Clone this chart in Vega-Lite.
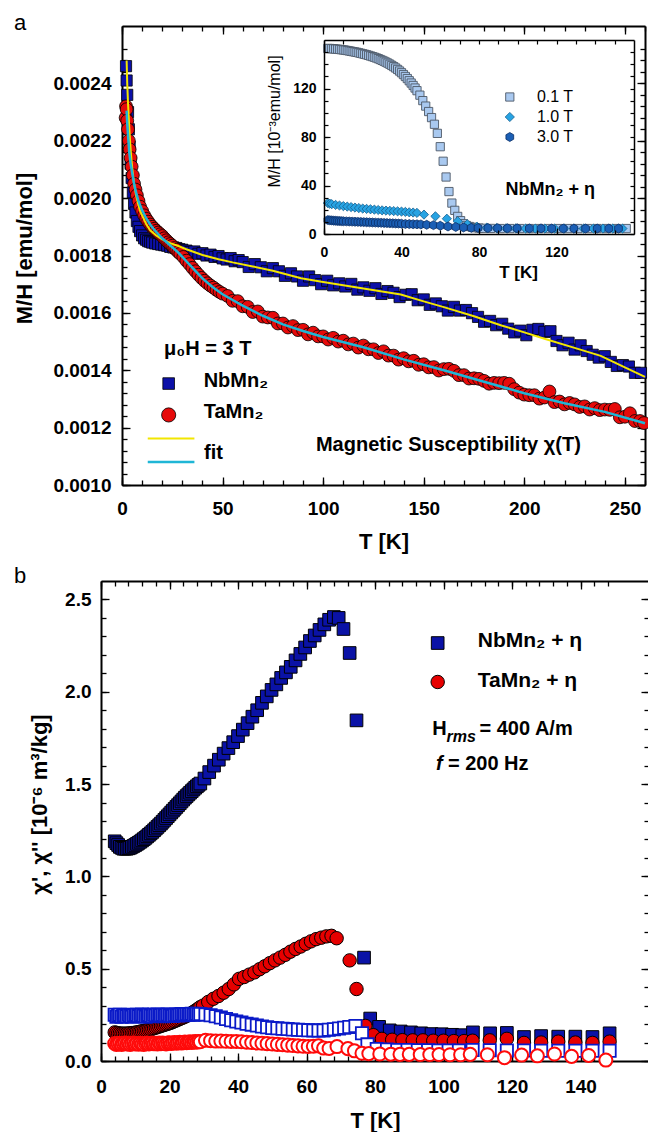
{
"$schema": "https://vega.github.io/schema/vega-lite/v6.json",
"background": "white",
"padding": {"left": 13, "top": 12, "right": 0, "bottom": 2},
"bounds": "flush",
"spacing": 96,
"config": {
 "view": {"stroke": null},
 "font": "Liberation Sans",
 "axis": {"grid": false, "domainColor": "#000000", "domainWidth": 2, "tickColor": "#000000", "tickWidth": 1.3, "tickSize": -8, "labelColor": "#000000", "titleColor": "#000000", "labelFont": "Liberation Sans", "titleFont": "Liberation Sans", "labelFontWeight": "bold", "titleFontWeight": "bold", "labelFontSize": 19, "titleFontSize": 22, "labelFlush": false, "labelOverlap": false}
},
"datasets": {
 "a_nb": [{"T":2,"v":0.00246},{"T":2.3,"v":0.00241},{"T":2.6,"v":0.00236},{"T":3,"v":0.0023},{"T":3.4,"v":0.00224},{"T":3.8,"v":0.00218},{"T":4.3,"v":0.00212},{"T":4.8,"v":0.00207},{"T":5.4,"v":0.00202},{"T":6,"v":0.00198},{"T":6.7,"v":0.00195},{"T":7.4,"v":0.00192},{"T":8.2,"v":0.0019},{"T":9,"v":0.001885},{"T":10,"v":0.00187},{"T":11,"v":0.00186},{"T":12,"v":0.001855},{"T":13,"v":0.00185},{"T":14,"v":0.001848},{"T":15,"v":0.001845},{"T":16.5,"v":0.001842},{"T":18,"v":0.00184},{"T":19.5,"v":0.001838},{"T":21,"v":0.001836},{"T":22.5,"v":0.001834},{"T":24,"v":0.00183},{"T":25.5,"v":0.001828},{"T":27,"v":0.001826},{"T":28.5,"v":0.001822},{"T":30,"v":0.00182},{"T":32,"v":0.001817},{"T":34,"v":0.001812},{"T":36,"v":0.001814},{"T":38,"v":0.001806},{"T":40,"v":0.001808},{"T":42,"v":0.0018},{"T":44,"v":0.001803},{"T":46,"v":0.001795},{"T":48,"v":0.001798},{"T":50,"v":0.00179},{"T":52,"v":0.001786},{"T":54,"v":0.001791},{"T":56,"v":0.00178},{"T":58,"v":0.001784},{"T":60,"v":0.001777},{"T":63,"v":0.00176},{"T":66,"v":0.00177},{"T":69,"v":0.001759},{"T":72,"v":0.001745},{"T":75,"v":0.001756},{"T":78,"v":0.001745},{"T":81,"v":0.001729},{"T":84,"v":0.001738},{"T":87,"v":0.001727},{"T":90,"v":0.001712},{"T":93,"v":0.001727},{"T":96,"v":0.001714},{"T":99,"v":0.0017},{"T":102,"v":0.001712},{"T":105,"v":0.001696},{"T":108,"v":0.001703},{"T":111,"v":0.001692},{"T":114,"v":0.001701},{"T":117,"v":0.001681},{"T":120,"v":0.001689},{"T":123,"v":0.001677},{"T":126,"v":0.001686},{"T":129,"v":0.001666},{"T":132,"v":0.001676},{"T":135,"v":0.00167},{"T":138,"v":0.001655},{"T":141,"v":0.001663},{"T":144,"v":0.001665},{"T":147,"v":0.001644},{"T":150,"v":0.001647},{"T":153,"v":0.001628},{"T":156,"v":0.001633},{"T":159,"v":0.001623},{"T":162,"v":0.001608},{"T":165,"v":0.001621},{"T":168,"v":0.001608},{"T":171,"v":0.00161},{"T":174,"v":0.001599},{"T":177,"v":0.001586},{"T":180,"v":0.001569},{"T":183,"v":0.001572},{"T":186,"v":0.001557},{"T":189,"v":0.001562},{"T":192,"v":0.001545},{"T":195,"v":0.001532},{"T":198,"v":0.001538},{"T":201,"v":0.001522},{"T":204,"v":0.001541},{"T":207,"v":0.001544},{"T":210,"v":0.001534},{"T":213,"v":0.001536},{"T":216,"v":0.001502},{"T":219,"v":0.001487},{"T":222,"v":0.001496},{"T":225,"v":0.001472},{"T":228,"v":0.001487},{"T":231,"v":0.001467},{"T":234,"v":0.001454},{"T":237,"v":0.001444},{"T":240,"v":0.001449},{"T":243,"v":0.001429},{"T":246,"v":0.001415},{"T":249,"v":0.001418},{"T":252,"v":0.001413},{"T":255,"v":0.001391},{"T":258,"v":0.001391}],
 "a_ta": [{"T":1.8,"v":0.00228},{"T":2,"v":0.00232},{"T":2.3,"v":0.00231},{"T":2.6,"v":0.00227},{"T":3,"v":0.00224},{"T":3.4,"v":0.0022},{"T":3.8,"v":0.00217},{"T":4.3,"v":0.00214},{"T":4.8,"v":0.00211},{"T":5.4,"v":0.00208},{"T":6,"v":0.00205},{"T":6.7,"v":0.00203},{"T":7.4,"v":0.00201},{"T":8.2,"v":0.00199},{"T":9,"v":0.00197},{"T":10,"v":0.001955},{"T":11,"v":0.00194},{"T":12,"v":0.001928},{"T":13,"v":0.001918},{"T":14,"v":0.001908},{"T":15,"v":0.0019},{"T":16,"v":0.001893},{"T":17,"v":0.001886},{"T":18,"v":0.00188},{"T":19,"v":0.001874},{"T":20,"v":0.001868},{"T":21,"v":0.00186},{"T":22,"v":0.001853},{"T":23,"v":0.001846},{"T":24,"v":0.00184},{"T":25,"v":0.001834},{"T":26,"v":0.001826},{"T":27,"v":0.00182},{"T":28,"v":0.001812},{"T":29,"v":0.001806},{"T":30.5,"v":0.001795},{"T":32,"v":0.001782},{"T":33.5,"v":0.00177},{"T":35,"v":0.001757},{"T":36.5,"v":0.001745},{"T":38,"v":0.001733},{"T":39.5,"v":0.001722},{"T":41,"v":0.001712},{"T":42.5,"v":0.001703},{"T":44,"v":0.001695},{"T":45.5,"v":0.001688},{"T":47,"v":0.00168},{"T":48.5,"v":0.001673},{"T":50,"v":0.001667},{"T":52.5,"v":0.001659},{"T":55,"v":0.001642},{"T":57.5,"v":0.001641},{"T":60,"v":0.001623},{"T":62.5,"v":0.001621},{"T":65,"v":0.001603},{"T":67.5,"v":0.001605},{"T":70,"v":0.001587},{"T":72.5,"v":0.001584},{"T":75,"v":0.001583},{"T":77.5,"v":0.001563},{"T":80,"v":0.001563},{"T":82.5,"v":0.001549},{"T":85,"v":0.001554},{"T":87.5,"v":0.00154},{"T":90,"v":0.001541},{"T":92.5,"v":0.001525},{"T":95,"v":0.001531},{"T":97.5,"v":0.001518},{"T":100,"v":0.001518},{"T":102.5,"v":0.001507},{"T":105,"v":0.001513},{"T":107.5,"v":0.0015},{"T":110,"v":0.001503},{"T":112.5,"v":0.00149},{"T":115,"v":0.001493},{"T":117.5,"v":0.001479},{"T":120,"v":0.001486},{"T":122.5,"v":0.001473},{"T":125,"v":0.001473},{"T":127.5,"v":0.00146},{"T":130,"v":0.001466},{"T":132.5,"v":0.001451},{"T":135,"v":0.001451},{"T":137.5,"v":0.001437},{"T":140,"v":0.001442},{"T":142.5,"v":0.001431},{"T":145,"v":0.001433},{"T":147.5,"v":0.001419},{"T":150,"v":0.001421},{"T":152.5,"v":0.00141},{"T":155,"v":0.001411},{"T":157.5,"v":0.001399},{"T":160,"v":0.001404},{"T":162.5,"v":0.001405},{"T":165,"v":0.001398},{"T":167.5,"v":0.001383},{"T":170,"v":0.001383},{"T":172.5,"v":0.001371},{"T":175,"v":0.001372},{"T":177.5,"v":0.00137},{"T":180,"v":0.001363},{"T":182.5,"v":0.001353},{"T":185,"v":0.001356},{"T":187.5,"v":0.001355},{"T":190,"v":0.001356},{"T":192.5,"v":0.001353},{"T":195,"v":0.001334},{"T":197.5,"v":0.001322},{"T":200,"v":0.001315},{"T":202.5,"v":0.001313},{"T":205,"v":0.001313},{"T":207.5,"v":0.001301},{"T":210,"v":0.001305},{"T":212.5,"v":0.001326},{"T":215,"v":0.001289},{"T":217.5,"v":0.001291},{"T":220,"v":0.001281},{"T":222.5,"v":0.001286},{"T":225,"v":0.001281},{"T":227.5,"v":0.001272},{"T":230,"v":0.001274},{"T":232.5,"v":0.001263},{"T":235,"v":0.001268},{"T":237.5,"v":0.001261},{"T":240,"v":0.001263},{"T":242.5,"v":0.001262},{"T":245,"v":0.001265},{"T":247.5,"v":0.001236},{"T":250,"v":0.001238},{"T":252.5,"v":0.00125},{"T":255,"v":0.001223},{"T":257.5,"v":0.001223},{"T":259.5,"v":0.001216}],
 "a_fy": [{"T":2.3,"v":0.00248},{"T":2.6,"v":0.0024},{"T":3,"v":0.00233},{"T":3.5,"v":0.00226},{"T":4,"v":0.0022},{"T":4.5,"v":0.00215},{"T":5,"v":0.00211},{"T":6,"v":0.00205},{"T":7,"v":0.00201},{"T":8,"v":0.00198},{"T":9,"v":0.001955},{"T":10,"v":0.00194},{"T":12,"v":0.00191},{"T":14,"v":0.001888},{"T":17,"v":0.00187},{"T":20,"v":0.001856},{"T":24,"v":0.001843},{"T":28,"v":0.001833},{"T":32,"v":0.001822},{"T":40,"v":0.001802},{"T":48,"v":0.001787},{"T":55,"v":0.001776},{"T":65,"v":0.001762},{"T":75,"v":0.001747},{"T":89,"v":0.001721},{"T":100,"v":0.001708},{"T":120,"v":0.001685},{"T":138.6,"v":0.001664},{"T":150,"v":0.00164},{"T":160,"v":0.00162},{"T":175,"v":0.001588},{"T":188.3,"v":0.001557},{"T":200,"v":0.001532},{"T":210,"v":0.00151},{"T":225,"v":0.001478},{"T":238,"v":0.00145},{"T":250,"v":0.00141},{"T":260,"v":0.001377}],
 "a_fc": [{"T":2.3,"v":0.002305},{"T":2.6,"v":0.00226},{"T":3,"v":0.00222},{"T":3.6,"v":0.00216},{"T":4.3,"v":0.00212},{"T":5,"v":0.00209},{"T":6,"v":0.00205},{"T":7,"v":0.00202},{"T":8,"v":0.001995},{"T":9,"v":0.001975},{"T":10,"v":0.001958},{"T":12,"v":0.00193},{"T":14,"v":0.001908},{"T":16,"v":0.00189},{"T":18,"v":0.001875},{"T":20,"v":0.00186},{"T":24,"v":0.001835},{"T":28,"v":0.00181},{"T":32,"v":0.00178},{"T":36,"v":0.00175},{"T":40,"v":0.00172},{"T":45,"v":0.00169},{"T":50,"v":0.001665},{"T":55,"v":0.001645},{"T":60,"v":0.001625},{"T":70,"v":0.00159},{"T":80,"v":0.00156},{"T":90,"v":0.001537},{"T":100,"v":0.001516},{"T":120,"v":0.00148},{"T":140,"v":0.001438},{"T":160,"v":0.0014},{"T":180,"v":0.00136},{"T":200,"v":0.00132},{"T":220,"v":0.001285},{"T":240,"v":0.001255},{"T":260,"v":0.001215}],
 "i_01": [{"T":2,"v":153},{"T":3,"v":153},{"T":4,"v":152.8},{"T":5,"v":152.7},{"T":6,"v":152.5},{"T":7,"v":152.4},{"T":8,"v":152.2},{"T":9,"v":152},{"T":10,"v":151.8},{"T":11,"v":151.6},{"T":12,"v":151.3},{"T":13,"v":151},{"T":14,"v":150.7},{"T":15,"v":150.4},{"T":16,"v":150.1},{"T":17,"v":149.8},{"T":18,"v":149.4},{"T":19,"v":149},{"T":20,"v":148.6},{"T":21,"v":148.2},{"T":22,"v":147.8},{"T":23,"v":147.3},{"T":24,"v":146.8},{"T":25,"v":146.3},{"T":26,"v":145.8},{"T":27,"v":145.2},{"T":28,"v":144.6},{"T":29,"v":143.9},{"T":30,"v":143.2},{"T":31,"v":142.5},{"T":32,"v":141.7},{"T":33,"v":140.9},{"T":34,"v":140},{"T":35,"v":139},{"T":36,"v":138},{"T":37,"v":136.9},{"T":38,"v":135.7},{"T":39,"v":134.4},{"T":40,"v":133},{"T":41,"v":131.5},{"T":42,"v":129.9},{"T":43,"v":128.2},{"T":44,"v":126.4},{"T":45,"v":124.5},{"T":46,"v":122.5},{"T":47,"v":120.4},{"T":48,"v":118.2},{"T":49.5,"v":114.5},{"T":51,"v":110},{"T":52.5,"v":105.5},{"T":54,"v":101},{"T":55.5,"v":96},{"T":57,"v":90.5},{"T":58.5,"v":83},{"T":60,"v":72},{"T":61.5,"v":60},{"T":63,"v":47},{"T":64.5,"v":35},{"T":66,"v":25.5},{"T":67.5,"v":19.5},{"T":69,"v":14.5},{"T":70.5,"v":11},{"T":72,"v":8.5},{"T":73.5,"v":7},{"T":75,"v":6.2},{"T":76.5,"v":5.6},{"T":78,"v":5.2},{"T":80,"v":4.9},{"T":82,"v":4.7},{"T":86,"v":4.6},{"T":91,"v":4.5},{"T":96,"v":4.5},{"T":101,"v":4.5},{"T":106,"v":4.5},{"T":111,"v":4.5},{"T":116,"v":4.5},{"T":121,"v":4.5},{"T":126,"v":4.5},{"T":131,"v":4.5},{"T":136,"v":4.5},{"T":141,"v":4.5},{"T":146,"v":4.5},{"T":151,"v":4.5},{"T":156,"v":4.5}],
 "i_10": [{"T":2,"v":25.5},{"T":3,"v":25},{"T":4,"v":24.6},{"T":6,"v":24},{"T":8,"v":23.5},{"T":10,"v":23},{"T":12,"v":22.6},{"T":14,"v":22.2},{"T":16,"v":21.8},{"T":18,"v":21.4},{"T":20,"v":21},{"T":22,"v":20.7},{"T":24,"v":20.4},{"T":26,"v":20.1},{"T":28,"v":19.8},{"T":30,"v":19.5},{"T":32,"v":19.3},{"T":34,"v":19.1},{"T":36,"v":18.9},{"T":38,"v":18.7},{"T":40,"v":18.5},{"T":42,"v":18.2},{"T":44,"v":17.9},{"T":46,"v":17.7},{"T":48,"v":17.4},{"T":51.6,"v":16},{"T":57.5,"v":14.6},{"T":63.4,"v":12.6},{"T":69,"v":10.5},{"T":74,"v":8},{"T":79,"v":6},{"T":84,"v":5.2},{"T":89,"v":4.9},{"T":94,"v":4.7},{"T":99,"v":4.6},{"T":104,"v":4.5},{"T":109,"v":4.5},{"T":114,"v":4.5},{"T":119,"v":4.5},{"T":124,"v":4.5},{"T":129,"v":4.5},{"T":134,"v":4.5},{"T":139,"v":4.5},{"T":144,"v":4.5},{"T":149,"v":4.5},{"T":154,"v":4.5}],
 "i_30": [{"T":2,"v":11.5},{"T":3,"v":11.3},{"T":4,"v":11.2},{"T":5,"v":11},{"T":6,"v":10.9},{"T":7,"v":10.8},{"T":8,"v":10.7},{"T":9,"v":10.6},{"T":10,"v":10.5},{"T":11.5,"v":10.4},{"T":13,"v":10.3},{"T":14.5,"v":10.2},{"T":16,"v":10.1},{"T":17.5,"v":10},{"T":19,"v":9.9},{"T":20.5,"v":9.8},{"T":22,"v":9.7},{"T":23.5,"v":9.6},{"T":25,"v":9.5},{"T":26.5,"v":9.4},{"T":28,"v":9.3},{"T":29.5,"v":9.2},{"T":31,"v":9.1},{"T":32.5,"v":9},{"T":34,"v":8.9},{"T":35.5,"v":8.8},{"T":37,"v":8.7},{"T":38.5,"v":8.6},{"T":40,"v":8.5},{"T":42,"v":8.3},{"T":44,"v":8.2},{"T":46,"v":8.1},{"T":48,"v":8},{"T":50,"v":7.9},{"T":53,"v":7.6},{"T":56.5,"v":7.3},{"T":60,"v":6.8},{"T":64,"v":6.2},{"T":68,"v":5.8},{"T":72,"v":5.4},{"T":76,"v":5.1},{"T":79.5,"v":5},{"T":84.6,"v":4.9},{"T":89.6,"v":4.8},{"T":94.7,"v":4.7},{"T":99.7,"v":4.7},{"T":106,"v":4.6},{"T":112,"v":4.6},{"T":117.5,"v":4.5},{"T":123.5,"v":4.5},{"T":129,"v":4.5},{"T":135,"v":4.5},{"T":141,"v":4.5},{"T":147,"v":4.5},{"T":152,"v":4.5}],
 "b_nb1": [{"T":4,"v":1.19},{"T":4.5,"v":1.18},{"T":5,"v":1.17},{"T":5.5,"v":1.16},{"T":6,"v":1.155},{"T":6.5,"v":1.15},{"T":7,"v":1.15},{"T":7.5,"v":1.15},{"T":8,"v":1.152},{"T":8.5,"v":1.155},{"T":9,"v":1.16},{"T":9.5,"v":1.165},{"T":10,"v":1.17},{"T":10.5,"v":1.176},{"T":11,"v":1.182},{"T":11.5,"v":1.188},{"T":12,"v":1.195},{"T":12.5,"v":1.202},{"T":13,"v":1.209},{"T":13.5,"v":1.217},{"T":14,"v":1.225},{"T":14.5,"v":1.233},{"T":15,"v":1.241},{"T":15.5,"v":1.25},{"T":16,"v":1.259},{"T":16.5,"v":1.268},{"T":17,"v":1.277},{"T":17.5,"v":1.286},{"T":18,"v":1.296},{"T":18.5,"v":1.306},{"T":19,"v":1.316},{"T":19.5,"v":1.326},{"T":20,"v":1.336},{"T":20.5,"v":1.346},{"T":21,"v":1.356},{"T":21.5,"v":1.366},{"T":22,"v":1.376},{"T":22.5,"v":1.386},{"T":23,"v":1.396},{"T":23.5,"v":1.406},{"T":24,"v":1.416},{"T":24.5,"v":1.426},{"T":25,"v":1.435},{"T":25.5,"v":1.444},{"T":26,"v":1.453},{"T":26.5,"v":1.462},{"T":27,"v":1.471},{"T":27.5,"v":1.48},{"T":28,"v":1.488},{"T":28.5,"v":1.496},{"T":29,"v":1.503},{"T":30.2,"v":1.53},{"T":31.6,"v":1.565},{"T":33,"v":1.6},{"T":34.4,"v":1.632},{"T":35.8,"v":1.665},{"T":37.2,"v":1.695},{"T":38.6,"v":1.727},{"T":40,"v":1.76},{"T":41.4,"v":1.795},{"T":42.8,"v":1.83},{"T":44.2,"v":1.865},{"T":45.6,"v":1.9},{"T":47,"v":1.94},{"T":48.4,"v":1.975},{"T":49.8,"v":2.01},{"T":51.2,"v":2.04},{"T":52.6,"v":2.075},{"T":54,"v":2.105},{"T":55.4,"v":2.135},{"T":56.8,"v":2.17},{"T":58.2,"v":2.205},{"T":59.6,"v":2.24},{"T":61,"v":2.275},{"T":62.4,"v":2.305},{"T":63.8,"v":2.335},{"T":65.2,"v":2.365},{"T":66.6,"v":2.39},{"T":68,"v":2.405},{"T":69.4,"v":2.4},{"T":70.8,"v":2.34},{"T":72.6,"v":2.21},{"T":74.6,"v":1.845},{"T":76.8,"v":0.56},{"T":78.6,"v":0.23},{"T":81.2,"v":0.185},{"T":84.3,"v":0.166},{"T":87.5,"v":0.16},{"T":90.5,"v":0.155},{"T":93.5,"v":0.15},{"T":96.5,"v":0.146},{"T":99.5,"v":0.145},{"T":102.5,"v":0.142},{"T":105.5,"v":0.14},{"T":108.6,"v":0.155},{"T":113.6,"v":0.15},{"T":118.5,"v":0.152},{"T":123.5,"v":0.13},{"T":128.5,"v":0.135},{"T":133.5,"v":0.132},{"T":138.5,"v":0.132},{"T":143.5,"v":0.13},{"T":148.5,"v":0.15}],
 "b_ta1": [{"T":4,"v":0.155},{"T":4.5,"v":0.152},{"T":5,"v":0.15},{"T":5.5,"v":0.149},{"T":6,"v":0.148},{"T":6.5,"v":0.148},{"T":7,"v":0.148},{"T":7.5,"v":0.148},{"T":8,"v":0.149},{"T":8.5,"v":0.15},{"T":9,"v":0.151},{"T":9.5,"v":0.152},{"T":10,"v":0.153},{"T":10.5,"v":0.155},{"T":11,"v":0.157},{"T":11.5,"v":0.159},{"T":12,"v":0.161},{"T":12.5,"v":0.163},{"T":13,"v":0.165},{"T":13.5,"v":0.167},{"T":14,"v":0.17},{"T":14.5,"v":0.172},{"T":15,"v":0.175},{"T":15.5,"v":0.178},{"T":16,"v":0.181},{"T":16.5,"v":0.184},{"T":17,"v":0.187},{"T":17.5,"v":0.19},{"T":18,"v":0.193},{"T":18.5,"v":0.196},{"T":19,"v":0.199},{"T":19.5,"v":0.202},{"T":20,"v":0.205},{"T":20.5,"v":0.208},{"T":21,"v":0.212},{"T":21.5,"v":0.216},{"T":22,"v":0.22},{"T":22.5,"v":0.224},{"T":23,"v":0.228},{"T":23.5,"v":0.232},{"T":24,"v":0.236},{"T":24.5,"v":0.24},{"T":25,"v":0.245},{"T":25.5,"v":0.25},{"T":26,"v":0.255},{"T":26.5,"v":0.26},{"T":27,"v":0.266},{"T":27.5,"v":0.272},{"T":28,"v":0.278},{"T":28.5,"v":0.285},{"T":29,"v":0.292},{"T":29.8,"v":0.3},{"T":31.3,"v":0.32},{"T":32.8,"v":0.337},{"T":34.3,"v":0.352},{"T":35.8,"v":0.37},{"T":37.3,"v":0.39},{"T":38.8,"v":0.415},{"T":40.3,"v":0.445},{"T":41.8,"v":0.455},{"T":43.3,"v":0.468},{"T":44.8,"v":0.48},{"T":46.3,"v":0.497},{"T":47.8,"v":0.513},{"T":49.3,"v":0.53},{"T":50.8,"v":0.545},{"T":52.3,"v":0.56},{"T":53.8,"v":0.575},{"T":55.3,"v":0.592},{"T":56.8,"v":0.607},{"T":58.3,"v":0.62},{"T":59.8,"v":0.635},{"T":61.3,"v":0.648},{"T":62.8,"v":0.66},{"T":64.3,"v":0.668},{"T":65.8,"v":0.675},{"T":67.3,"v":0.678},{"T":68.8,"v":0.665},{"T":72.6,"v":0.545},{"T":74.6,"v":0.39},{"T":77.2,"v":0.19},{"T":79.5,"v":0.14},{"T":82,"v":0.12},{"T":85,"v":0.115},{"T":88,"v":0.113},{"T":91,"v":0.112},{"T":94,"v":0.112},{"T":97,"v":0.11},{"T":100,"v":0.11},{"T":103,"v":0.108},{"T":106,"v":0.108},{"T":108.5,"v":0.11},{"T":113.5,"v":0.112},{"T":118.5,"v":0.12},{"T":123.5,"v":0.098},{"T":128.5,"v":0.1},{"T":133.5,"v":0.105},{"T":138.5,"v":0.1},{"T":143.5,"v":0.098},{"T":148.5,"v":0.105}],
 "b_nb2": [{"T":4,"v":0.25},{"T":4.5,"v":0.24},{"T":5,"v":0.245},{"T":5.5,"v":0.25},{"T":6,"v":0.24},{"T":6.5,"v":0.245},{"T":7,"v":0.248},{"T":7.5,"v":0.242},{"T":8,"v":0.25},{"T":8.5,"v":0.245},{"T":9,"v":0.24},{"T":9.5,"v":0.248},{"T":10,"v":0.245},{"T":10.5,"v":0.25},{"T":11,"v":0.243},{"T":11.5,"v":0.247},{"T":12,"v":0.252},{"T":12.5,"v":0.245},{"T":13,"v":0.24},{"T":13.5,"v":0.248},{"T":14,"v":0.25},{"T":14.5,"v":0.245},{"T":15,"v":0.242},{"T":15.5,"v":0.25},{"T":16,"v":0.247},{"T":16.5,"v":0.252},{"T":17,"v":0.245},{"T":17.5,"v":0.248},{"T":18,"v":0.25},{"T":18.5,"v":0.243},{"T":19,"v":0.248},{"T":19.5,"v":0.252},{"T":20,"v":0.246},{"T":20.5,"v":0.25},{"T":21,"v":0.244},{"T":21.5,"v":0.249},{"T":22,"v":0.252},{"T":22.5,"v":0.247},{"T":23,"v":0.25},{"T":23.5,"v":0.254},{"T":24,"v":0.248},{"T":24.5,"v":0.252},{"T":25,"v":0.255},{"T":25.5,"v":0.25},{"T":26,"v":0.253},{"T":26.5,"v":0.256},{"T":27,"v":0.25},{"T":27.5,"v":0.254},{"T":28,"v":0.256},{"T":28.5,"v":0.252},{"T":29,"v":0.255},{"T":30.5,"v":0.252},{"T":32,"v":0.248},{"T":33.5,"v":0.242},{"T":35,"v":0.236},{"T":36.5,"v":0.228},{"T":38,"v":0.221},{"T":39.5,"v":0.214},{"T":41,"v":0.208},{"T":42.5,"v":0.202},{"T":44,"v":0.197},{"T":45.5,"v":0.192},{"T":47,"v":0.187},{"T":48.5,"v":0.183},{"T":50,"v":0.179},{"T":51.5,"v":0.177},{"T":53,"v":0.175},{"T":54.5,"v":0.173},{"T":56,"v":0.171},{"T":57.5,"v":0.169},{"T":59,"v":0.168},{"T":60.5,"v":0.167},{"T":62,"v":0.166},{"T":63.5,"v":0.165},{"T":65,"v":0.166},{"T":66.5,"v":0.169},{"T":68,"v":0.172},{"T":69.5,"v":0.176},{"T":71,"v":0.18},{"T":72.5,"v":0.184},{"T":74.3,"v":0.19},{"T":76.2,"v":0.15},{"T":77.8,"v":0.09},{"T":80.5,"v":0.065},{"T":83.5,"v":0.062},{"T":86.5,"v":0.06},{"T":89.5,"v":0.06},{"T":92.5,"v":0.058},{"T":95.5,"v":0.058},{"T":98.5,"v":0.057},{"T":101.5,"v":0.057},{"T":104.5,"v":0.057},{"T":108.5,"v":0.06},{"T":113.5,"v":0.058},{"T":118.5,"v":0.057},{"T":123.5,"v":0.057},{"T":128.5,"v":0.056},{"T":133.5,"v":0.056},{"T":138.5,"v":0.055},{"T":143.5,"v":0.055},{"T":148.5,"v":0.056}],
 "b_ta2": [{"T":4,"v":0.095},{"T":4.5,"v":0.09},{"T":5,"v":0.093},{"T":5.5,"v":0.096},{"T":6,"v":0.09},{"T":6.5,"v":0.094},{"T":7,"v":0.097},{"T":7.5,"v":0.092},{"T":8,"v":0.095},{"T":8.5,"v":0.09},{"T":9,"v":0.094},{"T":9.5,"v":0.097},{"T":10,"v":0.092},{"T":10.5,"v":0.095},{"T":11,"v":0.091},{"T":11.5,"v":0.096},{"T":12,"v":0.093},{"T":12.5,"v":0.09},{"T":13,"v":0.095},{"T":13.5,"v":0.097},{"T":14,"v":0.092},{"T":14.5,"v":0.095},{"T":15,"v":0.098},{"T":15.5,"v":0.093},{"T":16,"v":0.096},{"T":16.5,"v":0.092},{"T":17,"v":0.097},{"T":17.5,"v":0.094},{"T":18,"v":0.098},{"T":18.5,"v":0.095},{"T":19,"v":0.092},{"T":19.5,"v":0.097},{"T":20,"v":0.099},{"T":20.5,"v":0.095},{"T":21,"v":0.098},{"T":21.5,"v":0.1},{"T":22,"v":0.096},{"T":22.5,"v":0.099},{"T":23,"v":0.101},{"T":23.5,"v":0.097},{"T":24,"v":0.1},{"T":24.5,"v":0.103},{"T":25,"v":0.099},{"T":25.5,"v":0.102},{"T":26,"v":0.104},{"T":26.5,"v":0.1},{"T":27,"v":0.103},{"T":27.5,"v":0.105},{"T":28,"v":0.102},{"T":28.5,"v":0.106},{"T":29,"v":0.104},{"T":30.5,"v":0.112},{"T":32,"v":0.11},{"T":33.5,"v":0.108},{"T":35,"v":0.108},{"T":36.5,"v":0.107},{"T":38,"v":0.106},{"T":39.5,"v":0.106},{"T":41,"v":0.104},{"T":42.5,"v":0.102},{"T":44,"v":0.1},{"T":45.5,"v":0.098},{"T":47,"v":0.096},{"T":48.5,"v":0.094},{"T":50,"v":0.092},{"T":51.5,"v":0.09},{"T":53,"v":0.088},{"T":54.5,"v":0.086},{"T":56,"v":0.084},{"T":57.5,"v":0.082},{"T":59,"v":0.08},{"T":60.5,"v":0.079},{"T":62,"v":0.08},{"T":63.5,"v":0.082},{"T":65,"v":0.07},{"T":66.6,"v":0.068},{"T":68.9,"v":0.078},{"T":72.1,"v":0.067},{"T":74,"v":0.055},{"T":76.2,"v":0.042},{"T":78.2,"v":0.04},{"T":81.4,"v":0.038},{"T":84.6,"v":0.037},{"T":87.3,"v":0.036},{"T":90,"v":0.036},{"T":93.2,"v":0.035},{"T":96,"v":0.035},{"T":98.7,"v":0.035},{"T":101.9,"v":0.034},{"T":105,"v":0.034},{"T":107.8,"v":0.036},{"T":112.8,"v":0.034},{"T":117.8,"v":0.018},{"T":122.8,"v":0.032},{"T":127.4,"v":0.028},{"T":132.4,"v":0.038},{"T":137.4,"v":0.025},{"T":142.4,"v":0.03},{"T":147.4,"v":0.005}]
},
"vconcat": [
 {
  "width": 544, "height": 459,
  "title": {"text": "a", "anchor": "start", "frame": "group", "fontSize": 22, "fontWeight": "normal", "font": "Liberation Sans", "color": "#000000", "dx": -87, "dy": 27, "offset": 0, "baseline": "alphabetic"},
  "layer": [
   {
    "layer": [
     {"data": {"name": "a_nb"},
      "mark": {"type": "point", "shape": "square", "filled": true, "fill": "#0c10a8", "stroke": "#000000", "strokeWidth": 0.8, "size": 125, "opacity": 1},
      "encoding": {
       "x": {"field": "T", "type": "quantitative", "scale": {"domain": [0, 260], "range": [21, 544]},
             "axis": {"orient": "bottom", "values": [0, 50, 100, 150, 200, 250], "format": "d", "labelPadding": 22, "title": "T [K]", "titlePadding": 13}},
       "y": {"field": "v", "type": "quantitative", "scale": {"domain": [0.001, 0.00255]},
             "axis": {"orient": "left", "offset": -21, "values": [0.001, 0.0012, 0.0014, 0.0016, 0.0018, 0.002, 0.0022, 0.0024], "format": ".4f", "labelPadding": 19, "title": "M/H [emu/mol]", "titlePadding": 16, "titleY": 222}}
      }},
     {"data": {"name": "a_ta"},
      "mark": {"type": "point", "shape": "circle", "filled": true, "fill": "#e60a0a", "stroke": "#000000", "strokeWidth": 0.8, "size": 165, "opacity": 1},
      "encoding": {
       "x": {"field": "T", "type": "quantitative", "axis": {"orient": "top", "values": [0, 50, 100, 150, 200, 250], "labels": false, "title": null}},
       "y": {"field": "v", "type": "quantitative", "axis": {"orient": "right", "values": [0.001, 0.0012, 0.0014, 0.0016, 0.0018, 0.002, 0.0022, 0.0024], "labels": false, "title": null}}
      }},
     {"data": {"name": "a_fy"},
      "mark": {"type": "line", "color": "#f2e600", "strokeWidth": 2},
      "encoding": {
       "x": {"field": "T", "type": "quantitative", "axis": {"orient": "bottom", "values": [0,10,20,30,40,50,60,70,80,90,100,110,120,130,140,150,160,170,180,190,200,210,220,230,240,250,260], "labels": false, "domain": false, "tickSize": -5, "title": null}},
       "y": {"field": "v", "type": "quantitative", "axis": {"orient": "left", "offset": -21, "values": [0.001,0.00104,0.00108,0.00112,0.00116,0.0012,0.00124,0.00128,0.00132,0.00136,0.0014,0.00144,0.00148,0.00152,0.00156,0.0016,0.00164,0.00168,0.00172,0.00176,0.0018,0.00184,0.00188,0.00192,0.00196,0.002,0.00204,0.00208,0.00212,0.00216,0.0022,0.00224,0.00228,0.00232,0.00236,0.0024,0.00244,0.00248,0.00252], "labels": false, "domain": false, "tickSize": -5, "title": null}}
      }},
     {"data": {"name": "a_fc"},
      "mark": {"type": "line", "color": "#1fb6d6", "strokeWidth": 2.5},
      "encoding": {
       "x": {"field": "T", "type": "quantitative", "axis": {"orient": "top", "values": [0,10,20,30,40,50,60,70,80,90,100,110,120,130,140,150,160,170,180,190,200,210,220,230,240,250,260], "labels": false, "domain": false, "tickSize": -5, "title": null}},
       "y": {"field": "v", "type": "quantitative", "axis": {"orient": "right", "values": [0.001,0.00104,0.00108,0.00112,0.00116,0.0012,0.00124,0.00128,0.00132,0.00136,0.0014,0.00144,0.00148,0.00152,0.00156,0.0016,0.00164,0.00168,0.00172,0.00176,0.0018,0.00184,0.00188,0.00192,0.00196,0.002,0.00204,0.00208,0.00212,0.00216,0.0022,0.00224,0.00228,0.00232,0.00236,0.0024,0.00244,0.00248,0.00252], "labels": false, "domain": false, "tickSize": -5, "title": null}}
      }},
     {"data": {"values": [{"T": 23.2, "v": 0.0013536}]},
      "mark": {"type": "point", "shape": "square", "filled": true, "fill": "#0c10a8", "stroke": "#000000", "strokeWidth": 0.8, "size": 135, "opacity": 1},
      "encoding": {"x": {"field": "T", "type": "quantitative", "axis": null}, "y": {"field": "v", "type": "quantitative", "axis": null}}},
     {"data": {"values": [{"T": 23.2, "v": 0.0012442}]},
      "mark": {"type": "point", "shape": "circle", "filled": true, "fill": "#e60a0a", "stroke": "#000000", "strokeWidth": 0.8, "size": 200, "opacity": 1},
      "encoding": {"x": {"field": "T", "type": "quantitative", "axis": null}, "y": {"field": "v", "type": "quantitative", "axis": null}}},
     {"data": {"values": [{"T": 12.8, "T2": 36, "v": 0.001162}]},
      "mark": {"type": "rule", "color": "#f2e600", "strokeWidth": 2},
      "encoding": {"x": {"field": "T", "type": "quantitative", "axis": null}, "x2": {"field": "T2"}, "y": {"field": "v", "type": "quantitative", "axis": null}}},
     {"data": {"values": [{"T": 12.8, "T2": 36, "v": 0.00108}]},
      "mark": {"type": "rule", "color": "#1fb6d6", "strokeWidth": 2.5},
      "encoding": {"x": {"field": "T", "type": "quantitative", "axis": null}, "x2": {"field": "T2"}, "y": {"field": "v", "type": "quantitative", "axis": null}}},
     {"data": {"values": [{"T": 20.9, "v": 0.001473, "label": "μ₀H = 3 T"}, {"T": 40.6, "v": 0.001361, "label": "NbMn₂"}, {"T": 40.6, "v": 0.001253, "label": "TaMn₂"}, {"T": 40.8, "v": 0.001111, "label": "fit"}, {"T": 96.4, "v": 0.00114, "label": "Magnetic Susceptibility χ(T)"}]},
      "mark": {"type": "text", "align": "left", "baseline": "middle", "font": "Liberation Sans", "fontSize": 20, "fontWeight": "bold", "color": "#000000"},
      "encoding": {"x": {"field": "T", "type": "quantitative", "axis": null}, "y": {"field": "v", "type": "quantitative", "axis": null}, "text": {"field": "label"}}}
    ],
    "resolve": {"axis": {"x": "independent", "y": "independent"}}
   },
   {
    "layer": [
     {"data": {"values": [{}]},
      "mark": {"type": "rect", "fill": "#ffffff"},
      "encoding": {
       "x": {"datum": 0, "type": "quantitative", "scale": {"domain": [0, 157], "range": [223, 533]},
             "axis": {"orient": "bottom", "offset": -251, "values": [0, 40, 80, 120], "format": "d", "tickSize": -6, "tickWidth": 1.2, "domainWidth": 1.5, "labelFontSize": 14, "labelPadding": 17, "title": "T [K]", "titleFontSize": 17, "titlePadding": 5, "titleX": 417, "zindex": 1}},
       "x2": {"datum": 157},
       "y": {"datum": 0, "type": "quantitative", "scale": {"domain": [0, 160], "range": [208, 14]},
             "axis": {"orient": "left", "offset": -223, "values": [0, 40, 80, 120], "format": "d", "tickSize": -6, "tickWidth": 1.2, "domainWidth": 1.5, "labelFontSize": 14, "labelPadding": 14, "title": "M/H [10⁻³emu/mol]", "titleFontSize": 16, "titleFontWeight": "normal", "titlePadding": 10, "titleY": 95, "zindex": 1}},
       "y2": {"datum": 160}
      }},
     {"data": {"name": "i_01"},
      "mark": {"type": "point", "shape": "square", "filled": true, "fill": "#a9c9f0", "stroke": "#4d5866", "strokeWidth": 0.9, "size": 68, "opacity": 1},
      "encoding": {
       "x": {"field": "T", "type": "quantitative", "axis": {"orient": "top", "offset": -14, "values": [0,10,20,30,40,50,60,70,80,90,100,110,120,130,140,150], "labels": false, "tickSize": -4, "tickWidth": 1.2, "domainWidth": 1.5, "title": null, "zindex": 1}},
       "y": {"field": "v", "type": "quantitative", "axis": {"orient": "right", "offset": -11, "values": [0,10,20,30,40,50,60,70,80,90,100,110,120,130,140,150], "labels": false, "tickSize": -4, "tickWidth": 1.2, "domainWidth": 1.5, "title": null, "zindex": 1}}
      }},
     {"data": {"name": "i_10"},
      "mark": {"type": "point", "shape": "diamond", "filled": true, "fill": "#27a3e3", "stroke": "#17608f", "strokeWidth": 0.8, "size": 85, "opacity": 1},
      "encoding": {
       "x": {"field": "T", "type": "quantitative", "axis": {"orient": "bottom", "offset": -251, "values": [0,10,20,30,40,50,60,70,80,90,100,110,120,130,140,150], "labels": false, "domain": false, "tickSize": -4, "tickWidth": 1.2, "title": null, "zindex": 1}},
       "y": {"field": "v", "type": "quantitative", "axis": {"orient": "left", "offset": -223, "values": [0,10,20,30,40,50,60,70,80,90,100,110,120,130,140,150], "labels": false, "domain": false, "tickSize": -4, "tickWidth": 1.2, "title": null, "zindex": 1}}
      }},
     {"data": {"name": "i_30"},
      "mark": {"type": "point", "shape": "M0,-1L0.866,-0.5L0.866,0.5L0,1L-0.866,0.5L-0.866,-0.5Z", "filled": true, "fill": "#1b5fb5", "stroke": "#0b2f66", "strokeWidth": 0.8, "size": 80, "opacity": 1},
      "encoding": {"x": {"field": "T", "type": "quantitative", "axis": null}, "y": {"field": "v", "type": "quantitative", "axis": null}}},
     {"data": {"values": [{"T": 95.9, "v": 113}]},
      "mark": {"type": "point", "shape": "square", "filled": true, "fill": "#a9c9f0", "stroke": "#4d5866", "strokeWidth": 0.9, "size": 68, "opacity": 1},
      "encoding": {"x": {"field": "T", "type": "quantitative", "axis": null}, "y": {"field": "v", "type": "quantitative", "axis": null}}},
     {"data": {"values": [{"T": 95.9, "v": 96.5}]},
      "mark": {"type": "point", "shape": "diamond", "filled": true, "fill": "#27a3e3", "stroke": "#17608f", "strokeWidth": 0.8, "size": 85, "opacity": 1},
      "encoding": {"x": {"field": "T", "type": "quantitative", "axis": null}, "y": {"field": "v", "type": "quantitative", "axis": null}}},
     {"data": {"values": [{"T": 95.9, "v": 80}]},
      "mark": {"type": "point", "shape": "M0,-1L0.866,-0.5L0.866,0.5L0,1L-0.866,0.5L-0.866,-0.5Z", "filled": true, "fill": "#1b5fb5", "stroke": "#0b2f66", "strokeWidth": 0.8, "size": 80, "opacity": 1},
      "encoding": {"x": {"field": "T", "type": "quantitative", "axis": null}, "y": {"field": "v", "type": "quantitative", "axis": null}}},
     {"data": {"values": [{"T": 109.9, "v": 113, "label": "0.1 T"}, {"T": 109.9, "v": 96.5, "label": "1.0 T"}, {"T": 109.9, "v": 80, "label": "3.0 T"}]},
      "mark": {"type": "text", "align": "left", "baseline": "middle", "font": "Liberation Sans", "fontSize": 16, "color": "#000000"},
      "encoding": {"x": {"field": "T", "type": "quantitative", "axis": null}, "y": {"field": "v", "type": "quantitative", "axis": null}, "text": {"field": "label"}}},
     {"data": {"values": [{"T": 93.7, "v": 36.3, "label": "NbMn₂ + η"}]},
      "mark": {"type": "text", "align": "left", "baseline": "middle", "font": "Liberation Sans", "fontSize": 18, "fontWeight": "bold", "color": "#000000"},
      "encoding": {"x": {"field": "T", "type": "quantitative", "axis": null}, "y": {"field": "v", "type": "quantitative", "axis": null}, "text": {"field": "label"}}}
    ],
    "resolve": {"axis": {"x": "independent", "y": "independent"}}
   }
  ],
  "resolve": {"scale": {"x": "independent", "y": "independent"}, "axis": {"x": "independent", "y": "independent"}}
 },
 {
  "width": 548, "height": 480,
  "title": {"text": "b", "anchor": "start", "frame": "group", "fontSize": 22, "fontWeight": "normal", "font": "Liberation Sans", "color": "#000000", "dx": -87, "dy": 24.5, "offset": 0, "baseline": "alphabetic"},
  "layer": [
   {"data": {"name": "b_nb1"},
    "mark": {"type": "point", "shape": "square", "filled": true, "fill": "#0a12a6", "stroke": "#000000", "strokeWidth": 1, "size": 160, "opacity": 1},
    "encoding": {
     "x": {"field": "T", "type": "quantitative", "scale": {"domain": [0, 150]},
           "axis": {"orient": "bottom", "values": [0, 20, 40, 60, 80, 100, 120, 140], "format": "d", "labelPadding": 24, "title": "T [K]", "titlePadding": 14}},
     "y": {"field": "v", "type": "quantitative", "scale": {"domain": [0, 2.6]},
           "axis": {"orient": "left", "values": [0, 0.5, 1, 1.5, 2, 2.5], "format": ".1f", "labelPadding": 18, "title": "χ', χ'' [10⁻⁶ m³/kg]", "titlePadding": 13, "titleY": 223}}
    }},
   {"data": {"name": "b_ta1"},
    "mark": {"type": "point", "shape": "circle", "filled": true, "fill": "#e60000", "stroke": "#000000", "strokeWidth": 1, "size": 180, "opacity": 1},
    "encoding": {
     "x": {"field": "T", "type": "quantitative", "axis": {"orient": "top", "values": [0, 20, 40, 60, 80, 100, 120, 140], "labels": false, "title": null}},
     "y": {"field": "v", "type": "quantitative", "axis": {"orient": "right", "values": [0, 0.5, 1, 1.5, 2, 2.5], "labels": false, "domain": false, "title": null}}
    }},
   {"data": {"name": "b_nb2"},
    "mark": {"type": "point", "shape": "square", "filled": true, "fill": "#ffffff", "stroke": "#0a1ac8", "strokeWidth": 1.8, "size": 150, "opacity": 1},
    "encoding": {
     "x": {"field": "T", "type": "quantitative", "axis": {"orient": "bottom", "values": [0,4,8,12,16,20,24,28,32,36,40,44,48,52,56,60,64,68,72,76,80,84,88,92,96,100,104,108,112,116,120,124,128,132,136,140,144,148], "labels": false, "domain": false, "tickSize": -5, "title": null}},
     "y": {"field": "v", "type": "quantitative", "axis": {"orient": "left", "values": [0,0.1,0.2,0.3,0.4,0.5,0.6,0.7,0.8,0.9,1,1.1,1.2,1.3,1.4,1.5,1.6,1.7,1.8,1.9,2,2.1,2.2,2.3,2.4,2.5], "labels": false, "domain": false, "tickSize": -5, "title": null}}
    }},
   {"data": {"name": "b_ta2"},
    "mark": {"type": "point", "shape": "circle", "filled": true, "fill": "#ffffff", "stroke": "#ff0a0a", "strokeWidth": 2, "size": 170, "opacity": 1},
    "encoding": {
     "x": {"field": "T", "type": "quantitative", "axis": {"orient": "top", "values": [0,4,8,12,16,20,24,28,32,36,40,44,48,52,56,60,64,68,72,76,80,84,88,92,96,100,104,108,112,116,120,124,128,132,136,140,144,148], "labels": false, "domain": false, "tickSize": -5, "title": null}},
     "y": {"field": "v", "type": "quantitative", "axis": {"orient": "right", "values": [0,0.1,0.2,0.3,0.4,0.5,0.6,0.7,0.8,0.9,1,1.1,1.2,1.3,1.4,1.5,1.6,1.7,1.8,1.9,2,2.1,2.2,2.3,2.4,2.5], "labels": false, "domain": false, "tickSize": -5, "title": null}}
    }},
   {"data": {"values": [{"T": 98.3, "v": 2.264}]},
    "mark": {"type": "point", "shape": "square", "filled": true, "fill": "#0a12a6", "stroke": "#000000", "strokeWidth": 1, "size": 160, "opacity": 1},
    "encoding": {"x": {"field": "T", "type": "quantitative", "axis": null}, "y": {"field": "v", "type": "quantitative", "axis": null}}},
   {"data": {"values": [{"T": 98.3, "v": 2.053}]},
    "mark": {"type": "point", "shape": "circle", "filled": true, "fill": "#e60000", "stroke": "#000000", "strokeWidth": 1, "size": 180, "opacity": 1},
    "encoding": {"x": {"field": "T", "type": "quantitative", "axis": null}, "y": {"field": "v", "type": "quantitative", "axis": null}}},
   {"data": {"values": [{"T": 110, "v": 2.275, "label": "NbMn₂ + η"}, {"T": 110, "v": 2.058, "label": "TaMn₂ + η"}]},
    "mark": {"type": "text", "align": "left", "baseline": "middle", "font": "Liberation Sans", "fontSize": 21, "fontWeight": "bold", "color": "#000000"},
    "encoding": {"x": {"field": "T", "type": "quantitative", "axis": null}, "y": {"field": "v", "type": "quantitative", "axis": null}, "text": {"field": "label"}}},
   {"data": {"values": [{"T": 96.7, "v": 1.8, "label": "H"}, {"T": 110.5, "v": 1.8, "label": "= 400 A/m"}, {"T": 101.3, "v": 1.61, "label": "= 200 Hz"}]},
    "mark": {"type": "text", "align": "left", "baseline": "middle", "font": "Liberation Sans", "fontSize": 20, "fontWeight": "bold", "color": "#000000"},
    "encoding": {"x": {"field": "T", "type": "quantitative", "axis": null}, "y": {"field": "v", "type": "quantitative", "axis": null}, "text": {"field": "label"}}},
   {"data": {"values": [{"T": 100.9, "v": 1.755, "label": "rms"}]},
    "mark": {"type": "text", "align": "left", "baseline": "middle", "font": "Liberation Sans", "fontSize": 16, "fontWeight": "bold", "fontStyle": "italic", "color": "#000000"},
    "encoding": {"x": {"field": "T", "type": "quantitative", "axis": null}, "y": {"field": "v", "type": "quantitative", "axis": null}, "text": {"field": "label"}}},
   {"data": {"values": [{"T": 97.8, "v": 1.61, "label": "f"}]},
    "mark": {"type": "text", "align": "left", "baseline": "middle", "font": "Liberation Sans", "fontSize": 20, "fontWeight": "bold", "fontStyle": "italic", "color": "#000000"},
    "encoding": {"x": {"field": "T", "type": "quantitative", "axis": null}, "y": {"field": "v", "type": "quantitative", "axis": null}, "text": {"field": "label"}}}
  ],
  "resolve": {"axis": {"x": "independent", "y": "independent"}}
 }
]
}
